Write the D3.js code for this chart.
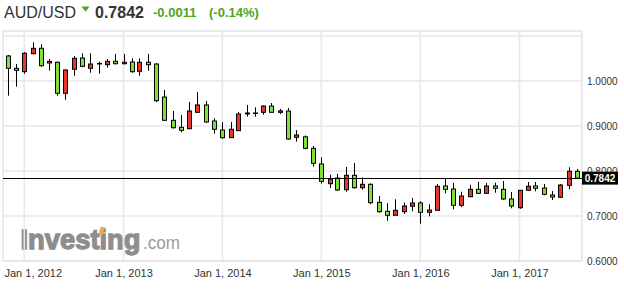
<!DOCTYPE html>
<html>
<head>
<meta charset="utf-8">
<script src="https://cdnjs.cloudflare.com/ajax/libs/d3/7.8.5/d3.min.js"></script>
<style>
  body { margin: 0; background: #fff; }
  svg { display: block; font-family: Arial, 'Liberation Sans', sans-serif; }
  .axisLabel { font-size: 10px; fill: #333; }
  .dateLabel { font-size: 11px; fill: #333; }
</style>
</head>
<body>
<svg class="candleChart"></svg>
<script>
/* monthly AUD/USD candles, Nov 2011 .. Aug 2017 */
const months = [
  '2011-11', '2011-12',
  '2012-01', '2012-02', '2012-03', '2012-04', '2012-05', '2012-06', '2012-07', '2012-08', '2012-09', '2012-10', '2012-11', '2012-12',
  '2013-01', '2013-02', '2013-03', '2013-04', '2013-05', '2013-06', '2013-07', '2013-08', '2013-09', '2013-10', '2013-11', '2013-12',
  '2014-01', '2014-02', '2014-03', '2014-04', '2014-05', '2014-06', '2014-07', '2014-08', '2014-09', '2014-10', '2014-11', '2014-12',
  '2015-01', '2015-02', '2015-03', '2015-04', '2015-05', '2015-06', '2015-07', '2015-08', '2015-09', '2015-10', '2015-11', '2015-12',
  '2016-01', '2016-02', '2016-03', '2016-04', '2016-05', '2016-06', '2016-07', '2016-08', '2016-09', '2016-10', '2016-11', '2016-12',
  '2017-01', '2017-02', '2017-03', '2017-04', '2017-05', '2017-06', '2017-07', '2017-08'
];
const opens = [
  1.0556, 1.0282,
  1.0207, 1.0607, 1.0727, 1.0400, 1.0416, 0.9727, 1.0260, 1.0511, 1.0282, 1.0378, 1.0362, 1.0438,
  1.0384, 1.0422, 1.0216, 1.0416, 1.0378, 0.9644, 0.9127, 0.8970, 0.8940, 0.9304, 0.9467, 0.9111,
  0.8911, 0.8740, 0.8896, 0.9267, 0.9289, 0.9304, 0.9444, 0.9304, 0.9333, 0.8749, 0.8760, 0.8504,
  0.8156, 0.7718, 0.7844, 0.7584, 0.7904, 0.7629, 0.7704, 0.7304, 0.7104, 0.7016, 0.7096, 0.7216,
  0.7289, 0.7082, 0.7127, 0.7667, 0.7600, 0.7238, 0.7429, 0.7593, 0.7504, 0.7667, 0.7593, 0.7378,
  0.7184, 0.7571, 0.7667, 0.7622, 0.7467, 0.7416, 0.7682, 0.7993
];
const highs = [
  1.0578, 1.0378,
  1.0640, 1.0860, 1.0816, 1.0489, 1.0430, 1.0260, 1.0556, 1.0616, 1.0616, 1.0430, 1.0489, 1.0600,
  1.0600, 1.0504, 1.0504, 1.0600, 1.0393, 0.9800, 0.9333, 0.9244, 0.9533, 0.9756, 0.9556, 0.9171,
  0.9089, 0.9089, 0.9311, 0.9467, 0.9415, 0.9460, 0.9511, 0.9378, 0.9400, 0.8911, 0.8790, 0.8556,
  0.8304, 0.7918, 0.7933, 0.8089, 0.8178, 0.7860, 0.7727, 0.7444, 0.7282, 0.7371, 0.7296, 0.7400,
  0.7327, 0.7260, 0.7711, 0.7844, 0.7733, 0.7540, 0.7696, 0.7756, 0.7733, 0.7740, 0.7778, 0.7533,
  0.7578, 0.7756, 0.7756, 0.7711, 0.7556, 0.7711, 0.8082, 0.8044
];
const lows = [
  0.9673, 0.9873,
  1.0162, 1.0593, 1.0318, 1.0229, 0.9673, 0.9584, 1.0118, 1.0304, 1.0184, 1.0162, 1.0296, 1.0370,
  1.0370, 1.0184, 1.0118, 1.0229, 0.9533, 0.9111, 0.8940, 0.8860, 0.8930, 0.9304, 0.9073, 0.8829,
  0.8718, 0.8740, 0.8896, 0.9207, 0.9207, 0.9251, 0.9300, 0.9267, 0.8696, 0.8651, 0.8482, 0.8096,
  0.7718, 0.7622, 0.7556, 0.7540, 0.7607, 0.7584, 0.7260, 0.7073, 0.6896, 0.7016, 0.7044, 0.7104,
  0.6829, 0.6993, 0.7127, 0.7504, 0.7149, 0.7200, 0.7416, 0.7490, 0.7489, 0.7518, 0.7356, 0.7171,
  0.7160, 0.7560, 0.7549, 0.7460, 0.7356, 0.7400, 0.7593, 0.7842
];
const closes = [
  1.0282, 1.0238,
  1.0616, 1.0727, 1.0340, 1.0435, 0.9727, 1.0244, 1.0504, 1.0327, 1.0378, 1.0390, 1.0438, 1.0384,
  1.0416, 1.0207, 1.0416, 1.0362, 0.9562, 0.9127, 0.8962, 0.8904, 0.9333, 0.9467, 0.9089, 0.8927,
  0.8740, 0.8927, 0.9267, 0.9289, 0.9282, 0.9444, 0.9304, 0.9336, 0.8711, 0.8800, 0.8504, 0.8171,
  0.7771, 0.7822, 0.7578, 0.7904, 0.7629, 0.7704, 0.7296, 0.7096, 0.7016, 0.7127, 0.7222, 0.7289,
  0.7082, 0.7133, 0.7660, 0.7593, 0.7238, 0.7444, 0.7593, 0.7504, 0.7667, 0.7616, 0.7378, 0.7222,
  0.7571, 0.7660, 0.7616, 0.7482, 0.7422, 0.7689, 0.7993, 0.7842
];
const priceTicks = [0.6, 0.7, 0.8, 0.9, 1.0, 1.1];
const labelTicks = [0.6, 0.7, 0.8, 0.9, 1.0];
const yearTicks = ['2012-01-01', '2013-01-01', '2014-01-01', '2015-01-01', '2016-01-01', '2017-01-01'];
const lastPrice = 0.7842;
const pair = 'AUD/USD';
const change = '-0.0011';
const changePct = '(-0.14%)';

const app = (function () {
  'use strict';

  function init () {
    const width = 624;
    const height = 294;
    const plot = { left: 3, right: 582, top: 31, bottom: 261 };
    const upColor = '#e8362c';
    const downColor = '#7fe036';
    const gridColor = '#e7e7ec';
    const green = '#4fa521';

    const parseMonth = d3.timeParse('%Y-%m');
    const parseDay = d3.timeParse('%Y-%m-%d');
    const fmtDate = d3.timeFormat('%b %-d, %Y');

    const data = months.map(function (m, i) {
      return { date: parseMonth(m), o: opens[i], h: highs[i], l: lows[i], c: closes[i] };
    });
    const years = yearTicks.map(parseDay);

    const x = d3.scaleTime()
      .domain([years[0], years[years.length - 1]])
      .range([24.3, 519.5]);

    const y = d3.scaleLinear()
      .domain([0.6, 1.1])
      .range([plot.bottom, 36]);

    const svg = d3.select('.candleChart')
      .attr('width', width)
      .attr('height', height);

    // header
    svg.append('text')
      .attr('x', 4)
      .attr('y', 17.5)
      .style('font-size', '16px')
      .attr('fill', '#333')
      .text(pair);
    svg.append('path')
      .attr('d', 'M81.5,6.5 L89.5,6.5 L85.5,11.8 Z')
      .attr('fill', green);
    svg.append('text')
      .attr('x', 95)
      .attr('y', 17.5)
      .style('font-size', '16px')
      .style('font-weight', 'bold')
      .attr('fill', '#333')
      .text(d3.format('.4f')(lastPrice));
    svg.append('text')
      .attr('x', 153)
      .attr('y', 17.3)
      .style('font-size', '13px')
      .style('font-weight', 'bold')
      .attr('fill', green)
      .text(change);
    svg.append('text')
      .attr('x', 209)
      .attr('y', 17.3)
      .style('font-size', '13px')
      .style('font-weight', 'bold')
      .attr('fill', green)
      .text(changePct);

    // watermark
    svg.append('text')
      .attr('x', 20.5)
      .attr('y', 248.7)
      .attr('textLength', 120)
      .attr('lengthAdjust', 'spacingAndGlyphs')
      .style('font-size', '28px')
      .style('font-weight', 'bold')
      .attr('fill', '#8e8e8e')
      .attr('stroke', '#8e8e8e')
      .attr('stroke-width', 1.3)
      .text('Investing');
    svg.append('text')
      .attr('x', 143)
      .attr('y', 248.7)
      .attr('textLength', 37)
      .attr('lengthAdjust', 'spacingAndGlyphs')
      .style('font-size', '19px')
      .attr('fill', '#9a9a9a')
      .text('.com');
    svg.append('path')
      .attr('d', 'M98.5,234.5 L100.5,227 L105,227 L103,234.5 Z')
      .attr('fill', '#f2a93e');

    // grid
    svg.append('g')
      .selectAll('line')
      .data(priceTicks)
      .enter()
      .append('line')
      .attr('x1', plot.left)
      .attr('x2', plot.right)
      .attr('y1', function (d) { return y(d); })
      .attr('y2', function (d) { return y(d); })
      .attr('stroke', gridColor)
      .attr('stroke-width', 1.6);

    svg.append('g')
      .selectAll('line')
      .data(years)
      .enter()
      .append('line')
      .attr('x1', function (d) { return x(d); })
      .attr('x2', function (d) { return x(d); })
      .attr('y1', plot.top)
      .attr('y2', plot.bottom)
      .attr('stroke', gridColor)
      .attr('stroke-width', 1.6);

    svg.append('rect')
      .attr('x', plot.left)
      .attr('y', plot.top)
      .attr('width', plot.right - plot.left)
      .attr('height', plot.bottom - plot.top)
      .attr('fill', 'none')
      .attr('stroke', gridColor)
      .attr('stroke-width', 1.6);

    // y axis labels
    const yAxis = d3.axisRight(y)
      .tickValues(labelTicks)
      .tickSize(0)
      .tickPadding(5)
      .tickFormat(d3.format('.4f'));
    const gy = svg.append('g')
      .attr('transform', 'translate(' + plot.right + ',0)')
      .call(yAxis);
    gy.select('.domain').remove();
    gy.selectAll('text')
      .attr('class', 'axisLabel')
      .attr('font-family', null)
      .attr('font-size', null)
      .attr('fill', null);

    // x axis labels
    const xAxis = d3.axisBottom(x)
      .tickValues(years)
      .tickSize(0)
      .tickPadding(8)
      .tickFormat(fmtDate);
    const gx = svg.append('g')
      .attr('transform', 'translate(0,' + plot.bottom + ')')
      .call(xAxis);
    gx.select('.domain').remove();
    gx.selectAll('text')
      .attr('class', 'dateLabel')
      .attr('font-family', null)
      .attr('font-size', null)
      .attr('fill', null)
      .each(function (d) {
        const w = this.getComputedTextLength();
        if (x(d) - w / 2 < 4) {
          d3.select(this)
            .attr('text-anchor', 'start')
            .attr('x', 4 - x(d));
        }
      });

    // candles
    const candles = svg.append('g')
      .selectAll('g')
      .data(data)
      .enter()
      .append('g')
      .attr('transform', function (d) {
        return 'translate(' + Math.round(x(d.date)) + ',0)';
      });

    candles.append('line')
      .attr('x1', 0.5)
      .attr('x2', 0.5)
      .attr('y1', function (d) { return y(d.h); })
      .attr('y2', function (d) { return y(d.l); })
      .attr('stroke', '#000')
      .attr('stroke-width', 1);

    candles.append('rect')
      .attr('x', -1.5)
      .attr('width', 4)
      .attr('y', function (d) { return y(Math.max(d.o, d.c)); })
      .attr('height', function (d) { return Math.max(0.5, Math.abs(y(d.o) - y(d.c))); })
      .attr('fill', function (d) { return d.c > d.o ? upColor : downColor; })
      .attr('stroke', '#000')
      .attr('stroke-width', 1);

    // last price line
    svg.append('line')
      .attr('x1', plot.left)
      .attr('x2', plot.right)
      .attr('y1', Math.round(y(lastPrice)) + 0.5)
      .attr('y2', Math.round(y(lastPrice)) + 0.5)
      .attr('stroke', '#000')
      .attr('stroke-width', 1);

    svg.append('rect')
      .attr('x', plot.right)
      .attr('y', y(lastPrice) - 6.5)
      .attr('width', 36)
      .attr('height', 13)
      .attr('fill', '#000');
    svg.append('text')
      .attr('x', plot.right + 18)
      .attr('y', y(lastPrice) + 3.5)
      .attr('text-anchor', 'middle')
      .style('font-size', '10px')
      .style('font-weight', 'bold')
      .attr('fill', '#fff')
      .text(d3.format('.4f')(lastPrice));
  }

  return {
    init: init
  };
}());

window.addEventListener('load', app.init);
</script>
</body>
</html>
